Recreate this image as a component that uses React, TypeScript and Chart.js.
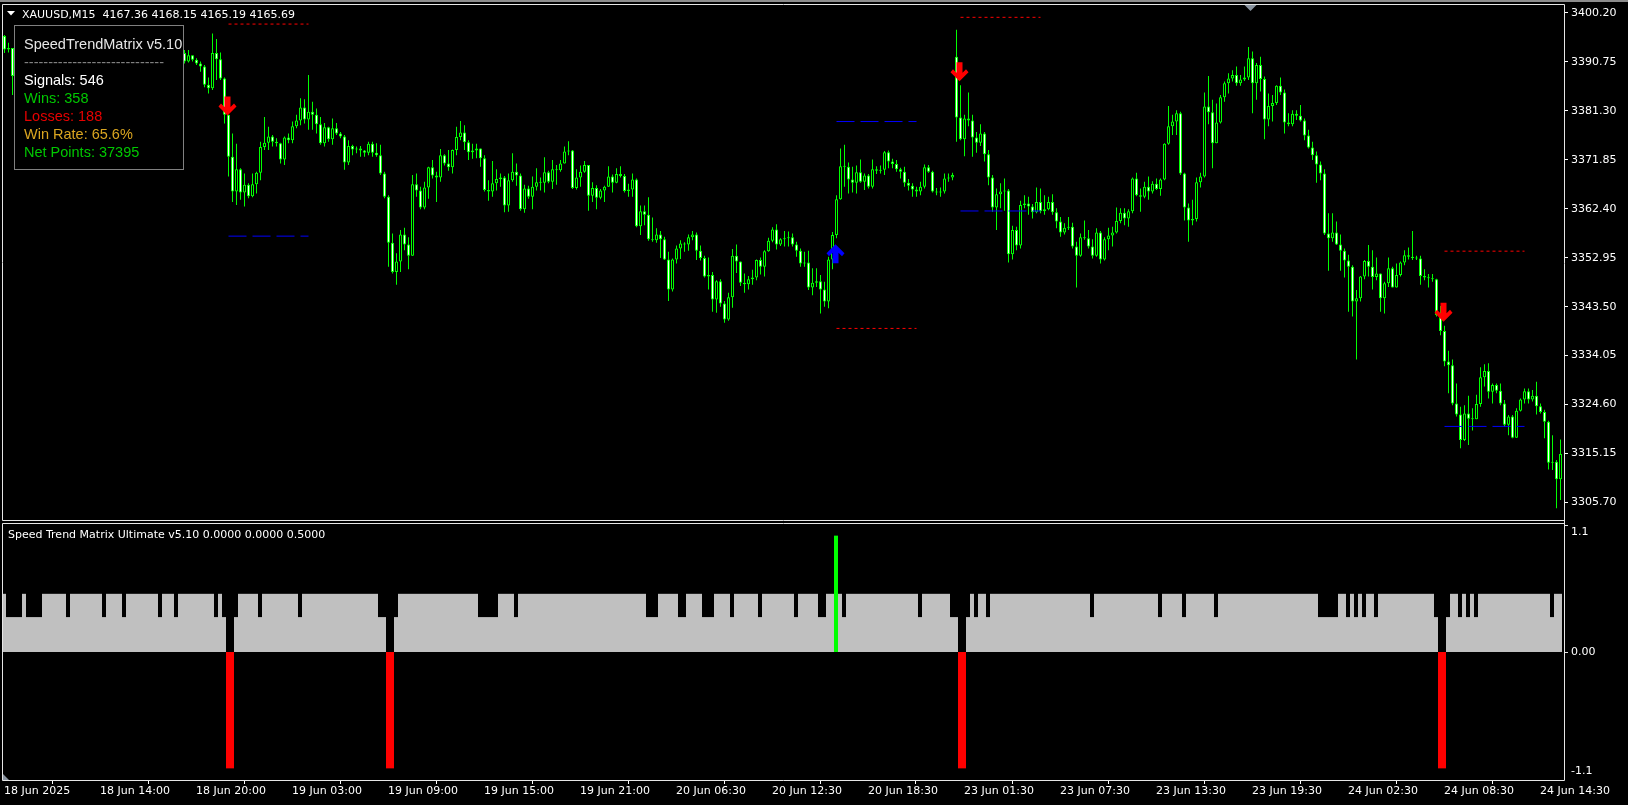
import React, { useEffect, useRef } from 'react';
import { Chart, registerables } from 'chart.js';
Chart.register(...registerables);

// ---------- DATA (XAUUSD M15) ----------
const firstOpen = 3395.7;
const gapOpens: [number, number][] = [[238, 3391.7]];

const closes = [
  3393.1, 3393.4, 3388.0, 3389.5, 3390.8, 3391.6, 3390.9, 3392.2, 3393.5, 3393.0,
  3394.1, 3393.6, 3392.4, 3392.9, 3391.7, 3392.5, 3393.8, 3394.6, 3394.0, 3395.2,
  3394.5, 3393.6, 3394.3, 3393.2, 3392.1, 3392.8, 3393.9, 3393.4, 3394.7, 3395.5,
  3394.9, 3394.1, 3393.3, 3393.9, 3392.8, 3393.5, 3394.2, 3393.6, 3392.7, 3393.4,
  3392.6, 3393.1, 3392.3, 3392.8, 3392.4, 3390.8, 3392.0, 3391.1, 3390.4, 3389.8,
  3386.3, 3385.6, 3392.4, 3391.2, 3387.5, 3380.5, 3372.4, 3365.7, 3370.0, 3365.5,
  3367.0, 3364.8, 3367.1, 3369.3, 3374.3, 3375.1, 3376.3, 3375.3, 3375.0, 3371.9,
  3376.1, 3375.6, 3378.3, 3379.4, 3381.9, 3379.6, 3381.1, 3380.5, 3378.7, 3375.0,
  3378.1, 3375.8, 3377.9, 3376.9, 3376.3, 3371.3, 3374.5, 3373.8, 3374.0, 3373.6,
  3373.2, 3374.9, 3373.2, 3372.7, 3369.2, 3364.7, 3355.8, 3350.2, 3352.2, 3357.4,
  3355.5, 3353.3, 3367.1, 3365.9, 3362.6, 3366.5, 3370.4, 3368.8, 3368.4, 3372.7,
  3371.1, 3370.4, 3373.7, 3376.2, 3377.1, 3375.2, 3373.3, 3373.6, 3374.0, 3372.1,
  3366.0, 3365.7, 3367.3, 3368.1, 3368.4, 3363.0, 3367.9, 3369.5, 3368.8, 3362.3,
  3366.3, 3364.7, 3366.6, 3367.5, 3367.4, 3369.4, 3367.6, 3370.0, 3369.8, 3371.1,
  3373.4, 3373.6, 3366.4, 3368.4, 3369.5, 3370.8, 3364.9, 3366.4, 3364.5, 3365.9,
  3366.6, 3368.6, 3367.4, 3369.1, 3368.7, 3365.8, 3366.1, 3368.0, 3359.0, 3361.9,
  3361.2, 3356.5, 3356.3, 3357.4, 3356.5, 3352.6, 3346.8, 3352.6, 3354.7, 3355.7,
  3355.5, 3356.9, 3357.4, 3354.3, 3352.9, 3349.3, 3349.6, 3344.9, 3348.4, 3344.1,
  3341.0, 3345.3, 3353.3, 3352.2, 3348.1, 3347.8, 3348.8, 3349.1, 3352.5, 3351.2,
  3354.2, 3356.2, 3358.4, 3355.5, 3356.5, 3356.7, 3356.9, 3355.5, 3354.3, 3351.8,
  3352.0, 3347.2, 3348.1, 3348.4, 3346.8, 3344.5, 3352.6, 3357.3, 3364.2, 3370.6,
  3370.5, 3368.0, 3367.4, 3369.4, 3367.6, 3368.8, 3366.6, 3370.0, 3369.7, 3369.9,
  3373.3, 3371.5, 3371.0, 3370.0, 3369.5, 3367.4, 3366.8, 3366.1, 3365.7, 3366.6,
  3370.4, 3369.5, 3365.7, 3365.5, 3365.7, 3368.2, 3368.4, 3368.9, 3380.0, 3375.8,
  3379.8, 3379.4, 3376.1, 3375.1, 3376.9, 3372.9, 3368.4, 3362.6, 3365.2, 3365.7,
  3365.9, 3353.6, 3358.3, 3355.3, 3363.1, 3363.4, 3362.8, 3361.7, 3363.7, 3361.9,
  3362.3, 3363.7, 3361.7, 3359.9, 3357.8, 3358.7, 3358.9, 3355.1, 3353.3, 3356.9,
  3356.7, 3355.1, 3353.3, 3357.8, 3352.6, 3356.5, 3357.2, 3357.8, 3360.0, 3361.6,
  3360.5, 3361.9, 3368.2, 3365.0, 3364.7, 3366.6, 3365.7, 3367.2, 3366.2, 3368.0,
  3374.9, 3378.3, 3379.2, 3380.8, 3369.2, 3362.6, 3360.1, 3360.4, 3367.5, 3368.6,
  3382.1, 3381.0, 3375.0, 3379.0, 3383.9, 3386.6, 3387.5, 3388.2, 3386.6, 3387.3,
  3387.7, 3391.4, 3386.6, 3390.1, 3387.4, 3379.6, 3382.2, 3382.8, 3386.1, 3384.8,
  3379.0, 3378.7, 3380.7, 3380.3, 3379.4, 3376.5, 3374.2, 3372.7, 3370.9, 3369.2,
  3357.6, 3356.7, 3357.8, 3355.5, 3354.3, 3352.4, 3351.2, 3344.5, 3345.1, 3349.3,
  3352.3, 3351.2, 3349.2, 3349.9, 3345.1, 3348.0, 3350.9, 3347.2, 3349.6, 3352.0,
  3353.4, 3353.1, 3352.9, 3352.8, 3349.4, 3349.1, 3349.0, 3348.8, 3341.9, 3338.8,
  3332.9, 3332.2, 3324.8, 3322.7, 3317.8, 3322.9, 3321.9, 3321.8, 3324.7, 3329.9,
  3331.1, 3327.1, 3328.4, 3327.3, 3324.8, 3320.7, 3322.3, 3318.2, 3323.4, 3325.6,
  3327.2, 3325.6, 3326.3, 3324.3, 3323.2, 3321.3, 3313.4, 3313.6, 3310.2, 3315.1,
];

const highs = [
  3395.9, 3394.4, 3393.0, 3390.2, 3391.5, 3392.4, 3392.0, 3392.8, 3394.1, 3394.3,
  3394.8, 3394.6, 3393.9, 3393.6, 3393.2, 3393.0, 3394.4, 3395.3, 3395.1, 3395.9,
  3395.6, 3394.9, 3394.8, 3394.6, 3393.5, 3393.4, 3394.5, 3394.3, 3395.2, 3396.1,
  3395.8, 3395.2, 3394.5, 3394.4, 3394.2, 3394.0, 3394.9, 3394.6, 3393.9, 3393.9,
  3393.8, 3393.6, 3393.5, 3393.3, 3393.2, 3393.0, 3393.0, 3392.0, 3391.4, 3390.8,
  3390.1, 3387.7, 3396.2, 3395.1, 3392.5, 3387.7, 3379.6, 3376.9, 3374.9, 3370.2,
  3369.2, 3367.3, 3369.2, 3369.5, 3375.3, 3380.1, 3378.2, 3376.6, 3376.0, 3375.1,
  3376.3, 3376.9, 3379.2, 3380.5, 3383.7, 3383.5, 3388.2, 3383.0, 3381.7, 3380.1,
  3378.9, 3378.2, 3379.8, 3378.9, 3377.2, 3376.6, 3375.6, 3374.7, 3374.4, 3374.5,
  3373.7, 3375.3, 3375.3, 3375.0, 3374.7, 3369.5, 3365.0, 3357.6, 3353.8, 3358.3,
  3358.7, 3356.9, 3368.9, 3369.2, 3366.6, 3367.6, 3370.5, 3371.8, 3369.5, 3373.9,
  3372.9, 3373.7, 3373.8, 3378.2, 3379.3, 3378.5, 3375.6, 3374.9, 3374.9, 3374.0,
  3372.7, 3367.9, 3371.6, 3370.0, 3369.2, 3368.7, 3369.2, 3373.1, 3371.1, 3369.2,
  3367.0, 3366.8, 3368.6, 3370.2, 3368.4, 3372.3, 3369.7, 3371.8, 3370.8, 3371.8,
  3374.4, 3375.4, 3373.7, 3370.0, 3370.7, 3371.6, 3370.5, 3367.5, 3366.9, 3366.2,
  3366.8, 3370.6, 3369.0, 3370.2, 3370.6, 3369.1, 3367.2, 3369.2, 3368.2, 3363.0,
  3363.0, 3364.6, 3360.7, 3358.6, 3358.1, 3357.0, 3354.1, 3352.8, 3355.3, 3356.3,
  3355.9, 3357.4, 3358.1, 3357.8, 3355.3, 3353.3, 3353.0, 3350.2, 3348.6, 3348.8,
  3344.6, 3346.2, 3354.6, 3355.5, 3352.2, 3349.9, 3349.4, 3350.6, 3352.6, 3353.0,
  3354.4, 3356.8, 3358.8, 3359.4, 3356.7, 3358.1, 3358.0, 3357.6, 3356.0, 3354.7,
  3354.1, 3354.3, 3350.9, 3350.9, 3349.6, 3348.3, 3353.1, 3357.9, 3365.0, 3374.0,
  3374.7, 3371.3, 3370.5, 3370.7, 3371.9, 3369.2, 3369.1, 3371.9, 3370.6, 3370.7,
  3373.5, 3373.6, 3372.0, 3371.8, 3370.3, 3370.5, 3368.1, 3367.3, 3366.6, 3367.6,
  3370.9, 3370.8, 3369.7, 3366.4, 3366.5, 3369.2, 3369.2, 3369.3, 3396.9, 3386.2,
  3380.5, 3384.8, 3380.5, 3377.2, 3378.7, 3377.2, 3373.7, 3368.9, 3366.3, 3367.3,
  3368.2, 3366.2, 3359.1, 3358.9, 3363.9, 3365.0, 3364.7, 3363.3, 3366.5, 3366.3,
  3365.0, 3364.7, 3365.2, 3362.5, 3360.8, 3359.6, 3360.8, 3359.7, 3356.0, 3357.6,
  3360.1, 3358.3, 3356.5, 3358.6, 3358.1, 3356.9, 3358.7, 3358.9, 3362.6, 3362.5,
  3362.5, 3362.3, 3368.4, 3369.3, 3366.3, 3367.6, 3368.6, 3367.7, 3368.2, 3368.2,
  3375.0, 3382.2, 3380.5, 3381.4, 3381.1, 3369.3, 3363.4, 3364.1, 3368.4, 3369.3,
  3384.8, 3388.0, 3383.4, 3382.7, 3384.3, 3386.9, 3388.5, 3389.1, 3389.8, 3388.2,
  3389.8, 3393.6, 3392.7, 3390.5, 3391.7, 3387.9, 3384.6, 3384.3, 3386.2, 3387.7,
  3385.4, 3380.8, 3381.4, 3381.4, 3382.4, 3379.8, 3377.6, 3375.3, 3373.4, 3371.5,
  3370.0, 3361.5, 3361.5, 3359.9, 3357.4, 3354.7, 3353.5, 3351.5, 3346.7, 3349.4,
  3352.5, 3355.4, 3354.4, 3353.0, 3349.8, 3348.3, 3353.0, 3351.2, 3351.8, 3352.2,
  3354.4, 3354.9, 3358.1, 3353.3, 3353.3, 3350.7, 3349.8, 3349.8, 3348.9, 3343.6,
  3339.8, 3335.0, 3333.3, 3328.7, 3324.2, 3324.5, 3326.3, 3323.9, 3326.5, 3331.8,
  3332.4, 3332.6, 3328.7, 3328.7, 3328.7, 3325.5, 3322.6, 3322.6, 3323.9, 3325.8,
  3327.7, 3327.7, 3327.4, 3329.0, 3324.8, 3323.6, 3321.5, 3318.7, 3313.9, 3317.9,
];

const lows = [
  3392.4, 3392.5, 3384.3, 3387.6, 3389.2, 3390.5, 3390.3, 3390.6, 3391.9, 3392.5,
  3392.7, 3393.0, 3391.8, 3391.9, 3391.1, 3391.3, 3392.2, 3393.5, 3393.4, 3393.7,
  3394.0, 3393.1, 3393.2, 3392.7, 3391.5, 3391.7, 3392.5, 3392.8, 3393.1, 3394.3,
  3394.2, 3393.6, 3392.8, 3392.9, 3392.3, 3392.4, 3393.1, 3393.0, 3392.2, 3392.3,
  3392.0, 3392.1, 3391.7, 3391.9, 3391.6, 3390.4, 3390.6, 3390.8, 3390.1, 3388.8,
  3385.8, 3384.6, 3385.3, 3387.2, 3387.2, 3378.8, 3368.6, 3363.7, 3363.1, 3364.1,
  3362.8, 3364.4, 3364.6, 3365.3, 3367.9, 3373.7, 3373.7, 3374.4, 3374.4, 3371.1,
  3370.8, 3375.0, 3375.0, 3377.9, 3378.5, 3378.8, 3377.6, 3377.6, 3376.9, 3374.7,
  3374.4, 3375.3, 3374.7, 3376.6, 3376.0, 3369.9, 3370.8, 3372.7, 3373.1, 3372.4,
  3372.4, 3372.7, 3372.4, 3372.4, 3368.9, 3364.4, 3351.2, 3349.9, 3347.7, 3350.2,
  3354.4, 3350.7, 3353.3, 3364.7, 3362.3, 3362.3, 3364.3, 3368.2, 3363.7, 3367.6,
  3370.7, 3369.7, 3369.2, 3372.7, 3375.6, 3373.7, 3371.8, 3372.0, 3372.1, 3370.5,
  3365.7, 3363.9, 3364.7, 3365.9, 3366.6, 3361.7, 3361.8, 3367.6, 3366.8, 3362.0,
  3361.6, 3364.3, 3362.3, 3365.9, 3365.9, 3365.5, 3367.3, 3366.2, 3367.0, 3369.5,
  3371.1, 3372.7, 3366.2, 3366.1, 3366.6, 3369.3, 3362.0, 3363.7, 3362.3, 3364.2,
  3363.7, 3366.6, 3365.5, 3367.3, 3368.4, 3365.5, 3364.7, 3364.7, 3358.8, 3357.3,
  3359.2, 3356.2, 3356.0, 3355.8, 3352.9, 3352.5, 3344.6, 3346.4, 3351.8, 3352.7,
  3354.1, 3354.3, 3356.3, 3352.5, 3352.4, 3349.1, 3346.8, 3342.5, 3342.3, 3343.5,
  3340.4, 3340.8, 3343.3, 3350.0, 3347.5, 3346.2, 3346.8, 3347.7, 3348.6, 3349.7,
  3349.3, 3354.1, 3355.9, 3354.5, 3355.2, 3355.1, 3355.1, 3355.1, 3353.1, 3351.2,
  3351.2, 3346.7, 3345.7, 3347.3, 3342.2, 3343.5, 3343.2, 3350.7, 3356.7, 3364.1,
  3366.6, 3365.3, 3365.5, 3365.3, 3367.4, 3366.0, 3366.3, 3366.3, 3369.1, 3369.2,
  3368.9, 3370.2, 3370.2, 3369.5, 3368.2, 3366.6, 3365.9, 3364.7, 3364.7, 3365.0,
  3366.3, 3369.3, 3365.5, 3365.0, 3364.7, 3365.3, 3367.6, 3367.9, 3375.3, 3375.6,
  3372.5, 3378.3, 3372.4, 3373.2, 3374.5, 3371.5, 3366.9, 3361.8, 3358.3, 3362.5,
  3362.0, 3352.0, 3352.6, 3354.4, 3354.7, 3362.5, 3361.2, 3360.5, 3361.5, 3361.5,
  3361.2, 3362.1, 3361.2, 3358.6, 3357.0, 3357.4, 3358.3, 3354.7, 3347.2, 3353.1,
  3356.4, 3354.7, 3352.8, 3353.1, 3351.8, 3352.4, 3354.4, 3355.1, 3357.6, 3359.6,
  3359.2, 3358.9, 3361.5, 3364.8, 3361.8, 3364.4, 3364.1, 3365.3, 3366.0, 3364.9,
  3367.9, 3374.7, 3376.6, 3376.6, 3368.9, 3360.1, 3356.0, 3359.2, 3359.9, 3366.5,
  3368.4, 3378.7, 3370.2, 3375.0, 3378.8, 3383.0, 3384.6, 3386.9, 3386.1, 3386.1,
  3387.0, 3387.2, 3380.8, 3383.4, 3385.0, 3375.8, 3378.3, 3379.2, 3382.4, 3384.3,
  3376.9, 3378.3, 3378.3, 3379.5, 3379.2, 3375.6, 3374.0, 3371.8, 3367.4, 3367.9,
  3357.3, 3350.4, 3356.0, 3355.4, 3350.4, 3349.1, 3342.5, 3341.6, 3333.3, 3344.5,
  3348.8, 3349.3, 3346.8, 3348.6, 3342.5, 3342.2, 3347.3, 3347.2, 3347.2, 3349.3,
  3351.5, 3352.6, 3352.5, 3352.5, 3347.7, 3348.6, 3347.2, 3348.3, 3341.6, 3338.0,
  3332.0, 3326.8, 3324.5, 3322.3, 3316.2, 3317.6, 3316.8, 3319.6, 3321.9, 3324.2,
  3328.1, 3325.8, 3324.8, 3326.8, 3324.5, 3320.3, 3318.7, 3318.1, 3318.5, 3323.3,
  3324.8, 3324.8, 3325.2, 3322.7, 3322.9, 3318.1, 3312.1, 3312.0, 3304.6, 3306.2,
];

// signals
const sellArrowBars = [56, 239, 360];
const buyArrowBars = [208];
// stop / target level lines (start bar, red dotted level, blue dashed level)
const levelBars = [56, 208, 239, 360];
const redLevels = [3398.0, 3339.3, 3399.3, 3354.2];
const blueLevels = [3357.1, 3379.2, 3361.95, 3320.4];
const levelLength = 20;

// indicator sub-window
const baseLevel = 0.5;
const notchLevel = 0.3;
const notchBars = [1, 2, 3, 4, 6, 7, 8, 9, 16, 25, 30, 39, 43, 53, 55, 58, 64, 74, 94, 95, 98,
  119, 120, 121, 122, 123, 128, 161, 162, 163, 169, 170, 175, 176, 177, 182, 189, 198, 204, 205,
  210, 229, 237, 238, 241, 243, 246, 272, 289, 295, 303, 329, 330, 331, 332, 333, 336, 338, 340,
  343, 358, 361, 364, 366, 368, 387];
const downSignalBars = [56, 57, 96, 97, 239, 240, 359, 360];
const upSignalBars = [208];

// axes
const priceTicks = [3400.20, 3390.75, 3381.30, 3371.85, 3362.40, 3352.95, 3343.50, 3334.05, 3324.60, 3315.15, 3305.70];
const timeTickBars = [0, 24, 48, 72, 96, 120, 144, 168, 192, 216, 240, 264, 288, 312, 336, 360, 384];
const timeLabels = ['18 Jun 2025', '18 Jun 14:00', '18 Jun 20:00', '19 Jun 03:00', '19 Jun 09:00', '19 Jun 15:00',
  '19 Jun 21:00', '20 Jun 06:30', '20 Jun 12:30', '20 Jun 18:30', '23 Jun 01:30', '23 Jun 07:30', '23 Jun 13:30',
  '23 Jun 19:30', '24 Jun 02:30', '24 Jun 08:30', '24 Jun 14:30'];

const headerText = 'XAUUSD,M15  4167.36 4168.15 4165.19 4165.69';
const paneTitle = 'Speed Trend Matrix Ultimate v5.10 0.0000 0.0000 0.5000';
const statsTitle = 'SpeedTrendMatrix v5.10';
const statsLines: [string, string][] = [
  ['Signals: 546', '#FFFFFF'],
  ['Wins: 358', '#00C800'],
  ['Losses: 188', '#E60000'],
  ['Win Rate: 65.6%', '#DAA520'],
  ['Net Points: 37395', '#00C800'],
];

// ---------- derived ----------
const W = 1628;
const H = 805;
const TOP_H = 522;
const BOT_H = H - TOP_H;
const AXIS_FONT = '11px "DejaVu Sans", Verdana, sans-serif';
const FG = '#FFFFFF';
const FRAME = '#E6E6E6';

const opens = closes.map((c, i) => {
  const g = gapOpens.find(([k]) => k === i);
  if (g) return g[1];
  return i === 0 ? firstOpen : closes[i - 1];
});

function drawArrow(ctx: CanvasRenderingContext2D, cx: number, tipY: number, down: boolean, color: string) {
  const s = down ? -1 : 1;
  const pts: [number, number][] = [
    [0, 0], [-9, 9], [-6.5, 12], [-3, 8.5], [-3, 19], [3, 19], [3, 8.5], [6.5, 12], [9, 9],
  ];
  ctx.save();
  ctx.fillStyle = color;
  ctx.beginPath();
  pts.forEach(([px, py], k) => {
    const X = cx + px;
    const Y = tipY + s * py;
    if (k === 0) ctx.moveTo(X, Y); else ctx.lineTo(X, Y);
  });
  ctx.closePath();
  ctx.fill();
  ctx.restore();
}

const mainPlugin = {
  id: 'mainDecor',
  beforeDraw(chart: any) {
    const ctx = chart.ctx as CanvasRenderingContext2D;
    ctx.save();
    ctx.fillStyle = '#000000';
    ctx.fillRect(0, 0, chart.width, chart.height);
    ctx.restore();
  },
  afterDatasetsDraw(chart: any) {
    const ctx = chart.ctx as CanvasRenderingContext2D;
    const xs = chart.scales.x;
    const ys = chart.scales.y;
    sellArrowBars.forEach((b) => {
      drawArrow(ctx, xs.getPixelForValue(b) - 1, ys.getPixelForValue(highs[b]) - 4, true, '#FF0000');
    });
    buyArrowBars.forEach((b) => {
      drawArrow(ctx, xs.getPixelForValue(b) - 1, ys.getPixelForValue(lows[b]) + 6, false, '#0000FF');
    });
  },
  afterDraw(chart: any) {
    const ctx = chart.ctx as CanvasRenderingContext2D;
    const a = chart.chartArea;
    ctx.save();
    // window strip
    ctx.fillStyle = '#8C8C8C';
    ctx.fillRect(0, 0, W, 2);
    // frame
    ctx.strokeStyle = FRAME;
    ctx.lineWidth = 1;
    ctx.beginPath();
    ctx.moveTo(2.5, 4.5); ctx.lineTo(a.right + 0.5, 4.5);
    ctx.moveTo(2.5, 4.5); ctx.lineTo(2.5, 520.5);
    ctx.moveTo(a.right + 0.5, 4.5); ctx.lineTo(a.right + 0.5, TOP_H);
    ctx.moveTo(2.5, 520.5); ctx.lineTo(a.right + 0.5, 520.5);
    ctx.stroke();
    // chart shift marker
    ctx.fillStyle = '#8A94A0';
    ctx.beginPath();
    ctx.moveTo(1244.5, 5); ctx.lineTo(1256.5, 5); ctx.lineTo(1250.5, 11); ctx.closePath();
    ctx.fill();
    // header
    ctx.fillStyle = FG;
    ctx.beginPath();
    ctx.moveTo(7, 11); ctx.lineTo(15, 11); ctx.lineTo(11, 15.5); ctx.closePath();
    ctx.fill();
    ctx.font = AXIS_FONT;
    ctx.textBaseline = 'alphabetic';
    ctx.textAlign = 'left';
    ctx.fillText(headerText, 22, 18);
    // stats box
    ctx.fillStyle = '#000000';
    ctx.fillRect(14, 25, 170, 145);
    ctx.strokeStyle = '#808080';
    ctx.strokeRect(14.5, 25.5, 169, 144);
    ctx.font = '14.5px "Liberation Sans", Arial, sans-serif';
    ctx.fillStyle = '#E6E6E6';
    ctx.fillText(statsTitle, 24, 49);
    ctx.fillStyle = '#808080';
    ctx.fillText('-----------------------------', 24, 67);
    statsLines.forEach(([t, c], k) => {
      ctx.fillStyle = c;
      ctx.fillText(t, 24, 85 + 18 * k);
    });
    ctx.restore();
  },
};

const subPlugin = {
  id: 'subDecor',
  beforeDraw(chart: any) {
    const ctx = chart.ctx as CanvasRenderingContext2D;
    ctx.save();
    ctx.fillStyle = '#000000';
    ctx.fillRect(0, 0, chart.width, chart.height);
    ctx.restore();
  },
  afterDraw(chart: any) {
    const ctx = chart.ctx as CanvasRenderingContext2D;
    const a = chart.chartArea;
    const ys = chart.scales.y;
    ctx.save();
    ctx.strokeStyle = FRAME;
    ctx.lineWidth = 1;
    ctx.beginPath();
    ctx.moveTo(2.5, 1.5); ctx.lineTo(a.right + 0.5, 1.5);
    ctx.moveTo(2.5, 1.5); ctx.lineTo(2.5, a.bottom + 0.5);
    ctx.moveTo(a.right + 0.5, 0); ctx.lineTo(a.right + 0.5, a.bottom + 0.5);
    ctx.moveTo(2.5, a.bottom + 0.5); ctx.lineTo(a.right + 0.5, a.bottom + 0.5);
    // y tick marks
    ctx.moveTo(a.right, Math.round(ys.getPixelForValue(0)) + 0.5);
    ctx.lineTo(a.right + 4, Math.round(ys.getPixelForValue(0)) + 0.5);
    ctx.moveTo(a.right, a.top + 1.5);
    ctx.lineTo(a.right + 4, a.top + 1.5);
    ctx.stroke();
    ctx.fillStyle = FG;
    ctx.font = AXIS_FONT;
    ctx.textAlign = 'left';
    ctx.textBaseline = 'middle';
    ctx.fillText(paneTitle, 8, 13);
    ctx.fillText('1.1', a.right + 7, a.top + 8);
    ctx.fillText('0.00', a.right + 7, ys.getPixelForValue(0));
    ctx.fillText('-1.1', a.right + 7, a.bottom - 8.5);
    // scroll marker bottom-left
    ctx.fillStyle = '#8A94A0';
    ctx.beginPath();
    ctx.moveTo(3, a.bottom - 6); ctx.lineTo(3, a.bottom); ctx.lineTo(9, a.bottom); ctx.closePath();
    ctx.fill();
    ctx.restore();
  },
};

export default function App() {
  const topRef = useRef<HTMLCanvasElement>(null);
  const botRef = useRef<HTMLCanvasElement>(null);

  useEffect(() => {
    document.body.style.margin = '0';
    document.body.style.background = '#000';
    document.body.style.overflow = 'hidden';

    const bodies = closes.map((c, i) => ({ x: i, y: [opens[i], c] }));
    const wicks = closes.map((c, i) => ({
      x: i,
      y: [Math.min(lows[i], opens[i], c), Math.max(highs[i], opens[i], c)],
    }));
    const bodyFill = closes.map((c, i) => (c < opens[i] ? '#FFFFFF' : '#000000'));

    const levelSets: any[] = [];
    levelBars.forEach((b, k) => {
      levelSets.push({
        type: 'line',
        data: [{ x: b, y: redLevels[k] }, { x: b + levelLength, y: redLevels[k] }],
        borderColor: '#FF0000', borderWidth: 1, borderDash: [3, 3], pointRadius: 0, order: 1,
      });
      levelSets.push({
        type: 'line',
        data: [{ x: b, y: blueLevels[k] }, { x: b + levelLength, y: blueLevels[k] }],
        borderColor: '#0000FF', borderWidth: 1, borderDash: [18, 6], pointRadius: 0, order: 1,
      });
    });

    const top = new Chart(topRef.current as HTMLCanvasElement, {
      type: 'bar',
      data: {
        datasets: [
          {
            data: wicks as any, backgroundColor: '#00FF00', barThickness: 1, grouped: false,
            borderWidth: 0, inflateAmount: 0, order: 3,
          } as any,
          {
            data: bodies as any, backgroundColor: bodyFill, borderColor: '#00FF00', borderWidth: 1,
            borderSkipped: false, barThickness: 3, grouped: false, minBarLength: 1, inflateAmount: 0, order: 2,
          } as any,
          ...levelSets,
        ],
      },
      options: {
        animation: false,
        responsive: false,
        devicePixelRatio: 1,
        events: [],
        layout: { padding: { left: 3, top: 4, right: 0, bottom: 2 }, autoPadding: false } as any,
        plugins: { legend: { display: false }, tooltip: { enabled: false } },
        scales: {
          x: { type: 'linear', min: -0.375, max: 389.875, display: false, offset: false },
          y: {
            type: 'linear', position: 'right', min: 3302.35, max: 3401.87,
            afterFit: (s: any) => { s.width = 64; s.paddingTop = 0; s.paddingBottom = 0; },
            afterBuildTicks: (s: any) => { s.ticks = priceTicks.map((v) => ({ value: v })); },
            ticks: {
              color: FG, font: { family: '"DejaVu Sans", Verdana, sans-serif', size: 11 }, padding: 3,
              autoSkip: false, callback: (v: any) => Number(v).toFixed(2),
            },
            grid: { drawOnChartArea: false, drawTicks: true, tickLength: 4, color: FG },
            border: { display: false },
          },
        },
      } as any,
      plugins: [mainPlugin],
    });

    const paneVals = closes.map((_, i) =>
      downSignalBars.includes(i) || upSignalBars.includes(i) ? 0 : notchBars.includes(i) ? notchLevel : baseLevel);
    const sigData = [
      ...downSignalBars.map((b) => ({ x: b, y: -1 })),
      ...upSignalBars.map((b) => ({ x: b, y: 1 })),
    ];
    const sigColors = sigData.map((d) => (d.y < 0 ? '#FF0000' : '#00FF00'));

    const bot = new Chart(botRef.current as HTMLCanvasElement, {
      type: 'bar',
      data: {
        datasets: [
          {
            data: paneVals.map((v, i) => ({ x: i, y: v })) as any, backgroundColor: '#C0C0C0',
            barThickness: 4, grouped: false, borderWidth: 0, inflateAmount: 0, order: 2,
          } as any,
          {
            data: sigData as any, backgroundColor: sigColors, barThickness: 4, grouped: false,
            borderWidth: 0, inflateAmount: 0, order: 1,
          } as any,
        ],
      },
      options: {
        animation: false,
        responsive: false,
        devicePixelRatio: 1,
        events: [],
        layout: { padding: { left: 3, top: 2, right: 0, bottom: 0 }, autoPadding: false } as any,
        plugins: { legend: { display: false }, tooltip: { enabled: false } },
        scales: {
          x: {
            type: 'linear', min: -0.25, max: 390, offset: false,
            afterFit: (s: any) => { s.height = 25; s.paddingLeft = 0; s.paddingRight = 0; },
            afterBuildTicks: (s: any) => { s.ticks = timeTickBars.map((v) => ({ value: v })); },
            ticks: {
              color: FG, font: { family: '"DejaVu Sans", Verdana, sans-serif', size: 11 }, padding: 1,
              align: 'start', maxRotation: 0, minRotation: 0, autoSkip: false,
              callback: (_v: any, idx: number) => timeLabels[idx],
            },
            grid: { drawOnChartArea: false, drawTicks: true, tickLength: 4, color: FG },
            border: { display: false },
          },
          y: {
            type: 'linear', position: 'right', min: -1.1, max: 1.1,
            afterFit: (s: any) => { s.width = 64; s.paddingTop = 0; s.paddingBottom = 0; },
            ticks: { display: false },
            grid: { display: false },
            border: { display: false },
          },
        },
      } as any,
      plugins: [subPlugin],
    });

    return () => {
      top.destroy();
      bot.destroy();
    };
  }, []);

  return (
    <div style={{ position: 'relative', width: W, height: H, background: '#000', overflow: 'hidden' }}>
      <canvas ref={topRef} width={W} height={TOP_H} style={{ position: 'absolute', left: 0, top: 0, width: W, height: TOP_H }} />
      <canvas ref={botRef} width={W} height={BOT_H} style={{ position: 'absolute', left: 0, top: TOP_H, width: W, height: BOT_H }} />
    </div>
  );
}
